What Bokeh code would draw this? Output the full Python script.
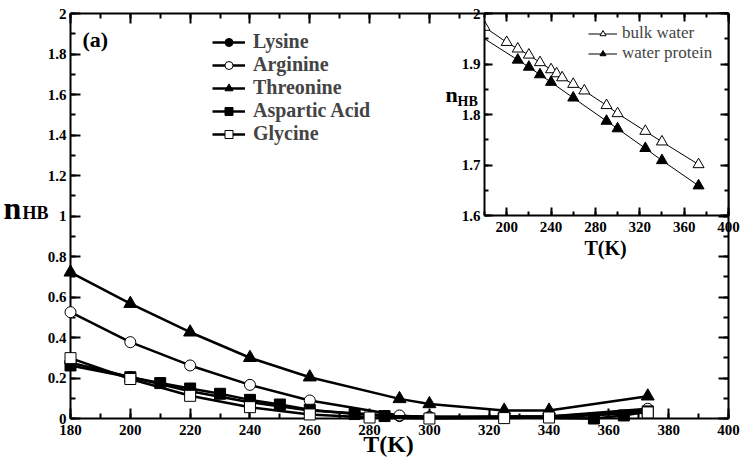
from bokeh.plotting import figure
from bokeh.models import (Range1d, LinearAxis, FixedTicker, PrintfTickFormatter,
                          Legend, LegendItem, Label, CustomLabelingPolicy)
from bokeh.embed import file_html
from bokeh.resources import INLINE

# ---- main panel: H-bonds per residue vs temperature ----
T_lys = [180, 200, 220, 240, 260, 290, 300, 325, 340, 373]
lysine = [0.275, 0.205, 0.135, 0.080, 0.040, 0.012, 0.008, 0.010, 0.010, 0.040]

T_arg = [180, 200, 220, 240, 260, 290, 300, 325, 340, 373]
arginine = [0.525, 0.377, 0.262, 0.166, 0.089, 0.015, 0.005, 0.010, 0.010, 0.048]

T_thr = [180, 200, 220, 240, 260, 290, 300, 325, 340, 373]
threonine = [0.722, 0.567, 0.426, 0.300, 0.204, 0.097, 0.072, 0.040, 0.040, 0.110]

T_asp = [180, 200, 210, 220, 230, 240, 250, 260, 275, 285, 355, 365, 373]
aspartic = [0.262, 0.204, 0.175, 0.148, 0.122, 0.092, 0.069, 0.043, 0.022, 0.012, 0.0, 0.015, 0.035]

T_gly = [180, 200, 220, 240, 260, 280, 300, 325, 340, 373]
glycine = [0.298, 0.195, 0.112, 0.056, 0.020, 0.005, 0.0, 0.002, 0.005, 0.030]

x_major = [180, 200, 220, 240, 260, 280, 300, 320, 340, 360, 380, 400]
x_minor = list(range(180, 401, 10))
y_major = [0, 0.2, 0.4, 0.6, 0.8, 1.0, 1.2, 1.4, 1.6, 1.8, 2.0]
y_minor = [i / 10 for i in range(0, 21)]

# ---- inset: bulk vs protein-hydration water ----
T_bulk = [180, 200, 210, 220, 230, 240, 245, 250, 260, 270, 290, 300, 325, 340, 373]
bulk = [1.973, 1.943, 1.930, 1.918, 1.903, 1.889, 1.881, 1.873, 1.860, 1.847,
        1.818, 1.802, 1.767, 1.746, 1.701]

T_prot = [170, 210, 220, 230, 240, 260, 290, 300, 325, 340, 373]
protein = [1.964, 1.908, 1.894, 1.879, 1.864, 1.833, 1.787, 1.772, 1.733, 1.709, 1.659]

ix_major = [200, 240, 280, 320, 360, 400]
ix_minor = list(range(180, 401, 20))
iy_major = [1.6, 1.7, 1.8, 1.9, 2.0]
iy_minor = [1.6 + 0.05 * i for i in range(9)]

SERIF = "Liberation Serif"
W, H = 743, 459
# main frame borders (left, right, top, bottom) in pixels
BL, BR, BT, BB = 70, 15, 13, 41
X0, X1, Y0, Y1 = 180, 400, 0, 2
# inset figure box
IX, IW, IH = 430, 313, 260

NO_LABELS = CustomLabelingPolicy(code="""
const keep = []
for (const i of indices) keep.push(i)
for (const i of keep) indices.unset(i)
return indices
""")


def style_axis(ax, major, minor, labels=True, size="15px", tick_in=10, width=2):
    ax.ticker = FixedTicker(ticks=major, minor_ticks=minor)
    ax.formatter = PrintfTickFormatter(format="%g")
    ax.axis_line_width = width
    ax.major_tick_in = tick_in
    ax.major_tick_out = 0
    ax.minor_tick_in = tick_in // 2
    ax.minor_tick_out = 0
    ax.major_tick_line_width = width
    ax.minor_tick_line_width = width
    ax.major_label_text_font = SERIF
    ax.major_label_text_font_style = "bold"
    ax.major_label_text_color = "black"
    if labels:
        ax.major_label_text_font_size = size
    else:
        # tick marks only: no labels, and no room reserved for them
        ax.major_label_text_font_size = "0px"
        ax.major_label_policy = NO_LABELS
        ax.major_label_standoff = 0


# axes-only main figure
p = figure(width=W, height=H, x_range=Range1d(X0, X1), y_range=Range1d(Y0, Y1),
           output_backend="svg", toolbar_location=None,
           min_border_left=BL, min_border_right=BR, min_border_top=BT, min_border_bottom=BB,
           x_axis_location=None, y_axis_location=None)
p.grid.visible = False
p.outline_line_color = None
p.background_fill_color = "white"
p.border_fill_color = "white"

bottom = LinearAxis()
style_axis(bottom, x_major, x_minor)
bottom.major_label_standoff = 6
left = LinearAxis()
style_axis(left, y_major, y_minor)
left.major_label_standoff = 4
top = LinearAxis()
style_axis(top, x_major, x_minor, labels=False)
right = LinearAxis()
style_axis(right, y_major, y_minor, labels=False)
p.add_layout(bottom, "below")
p.add_layout(left, "left")
p.add_layout(top, "above")
p.add_layout(right, "right")

# inset figure with transparent border, placed over the top-right corner
q = figure(width=IW, height=IH, x_range=Range1d(180, 400), y_range=Range1d(1.6, 2.0),
           output_backend="svg", toolbar_location=None,
           min_border_left=54, min_border_right=15, min_border_top=13, min_border_bottom=45,
           x_axis_location=None, y_axis_location=None,
           styles={"position": "absolute", "left": f"{IX}px", "top": "0px"})
q.grid.visible = False
q.outline_line_color = None
q.background_fill_color = "white"
q.border_fill_color = None

ib = LinearAxis()
style_axis(ib, ix_major, ix_minor, tick_in=8)
ib.major_label_standoff = 6
il = LinearAxis()
style_axis(il, iy_major, iy_minor, tick_in=8)
il.major_label_standoff = 4
it = LinearAxis()
style_axis(it, ix_major, ix_minor, labels=False, tick_in=8)
ir = LinearAxis()
style_axis(ir, iy_major, iy_minor, labels=False, tick_in=8)
q.add_layout(ib, "below")
q.add_layout(il, "left")
q.add_layout(it, "above")
q.add_layout(ir, "right")

l1 = q.line(T_bulk, bulk, line_color="black", line_width=1)
s1 = q.scatter(T_bulk, bulk, marker="triangle", size=11, fill_color="white",
               line_color="black", line_width=1)
l2 = q.line(T_prot, protein, line_color="black", line_width=1)
s2 = q.scatter(T_prot, protein, marker="triangle", size=11, fill_color="black",
               line_color="black", line_width=1)
ileg = Legend(items=[LegendItem(label="bulk water", renderers=[l1, s1]),
                     LegendItem(label="water protein", renderers=[l2, s2])],
              location=(104, 152), padding=0, margin=0, spacing=0,
              glyph_width=29, glyph_height=15, label_height=15, label_standoff=5,
              label_text_font=SERIF, label_text_font_size="17px",
              border_line_color=None, background_fill_alpha=0)
q.add_layout(ileg)

# full-canvas overlay sharing the main frame's scale, so that markers on the
# frame edge and the axis titles are not clipped
sx = (W - BL - BR) / (X1 - X0)
sy = (H - BT - BB) / (Y1 - Y0)
ov = figure(width=W, height=H,
            x_range=Range1d(X0 - BL / sx, X1 + BR / sx),
            y_range=Range1d(Y0 - BB / sy, Y1 + BT / sy),
            output_backend="svg", toolbar_location=None, min_border=0,
            min_border_left=0, min_border_right=0, min_border_top=0, min_border_bottom=0,
            x_axis_location=None, y_axis_location=None,
            styles={"position": "absolute", "left": "0px", "top": "0px"})
ov.grid.visible = False
ov.outline_line_color = None
ov.background_fill_color = None
ov.border_fill_color = None

items = []
series = [
    ("Lysine", T_lys, lysine, "circle", "black", 11),
    ("Arginine", T_arg, arginine, "circle", "white", 11),
    ("Threonine", T_thr, threonine, "triangle", "black", 13),
    ("Aspartic Acid", T_asp, aspartic, "square", "black", 11),
    ("Glycine", T_gly, glycine, "square", "white", 11),
]
for name, xs, ys, marker, fill, size in series:
    ln = ov.line(xs, ys, line_color="black", line_width=2.5)
    sc = ov.scatter(xs, ys, marker=marker, size=size, fill_color=fill,
                    line_color="black", line_width=1)
    items.append(LegendItem(label=name, renderers=[ln, sc]))

leg = Legend(items=items, location=(212, 314), padding=0, margin=0, spacing=0,
             glyph_width=33, glyph_height=20, label_height=20, label_standoff=8,
             label_text_font=SERIF, label_text_font_style="bold",
             label_text_font_size="20px", border_line_color=None,
             background_fill_alpha=0)
ov.add_layout(leg)


def text(x, y, s, size, bold=True, align="left"):
    ov.add_layout(Label(x=x, y=y, x_units="screen", y_units="screen", text=s,
                        text_align=align, text_baseline="alphabetic",
                        text_font=SERIF, text_font_style="bold" if bold else "normal",
                        text_font_size=size, text_color="black"))


text(82, 420, "(a)", "22px")
text(388, 16, "T(K)", "24px", align="center")
text(3, 252, "n", "32px")
text(22, 247, "HB", "18px")
text(605, 212, "T(K)", "20px", align="center")
text(445, 365, "n", "22px")
text(457, 358, "HB", "14px")

open("out.html", "w").write(file_html([p, q, ov], INLINE))
